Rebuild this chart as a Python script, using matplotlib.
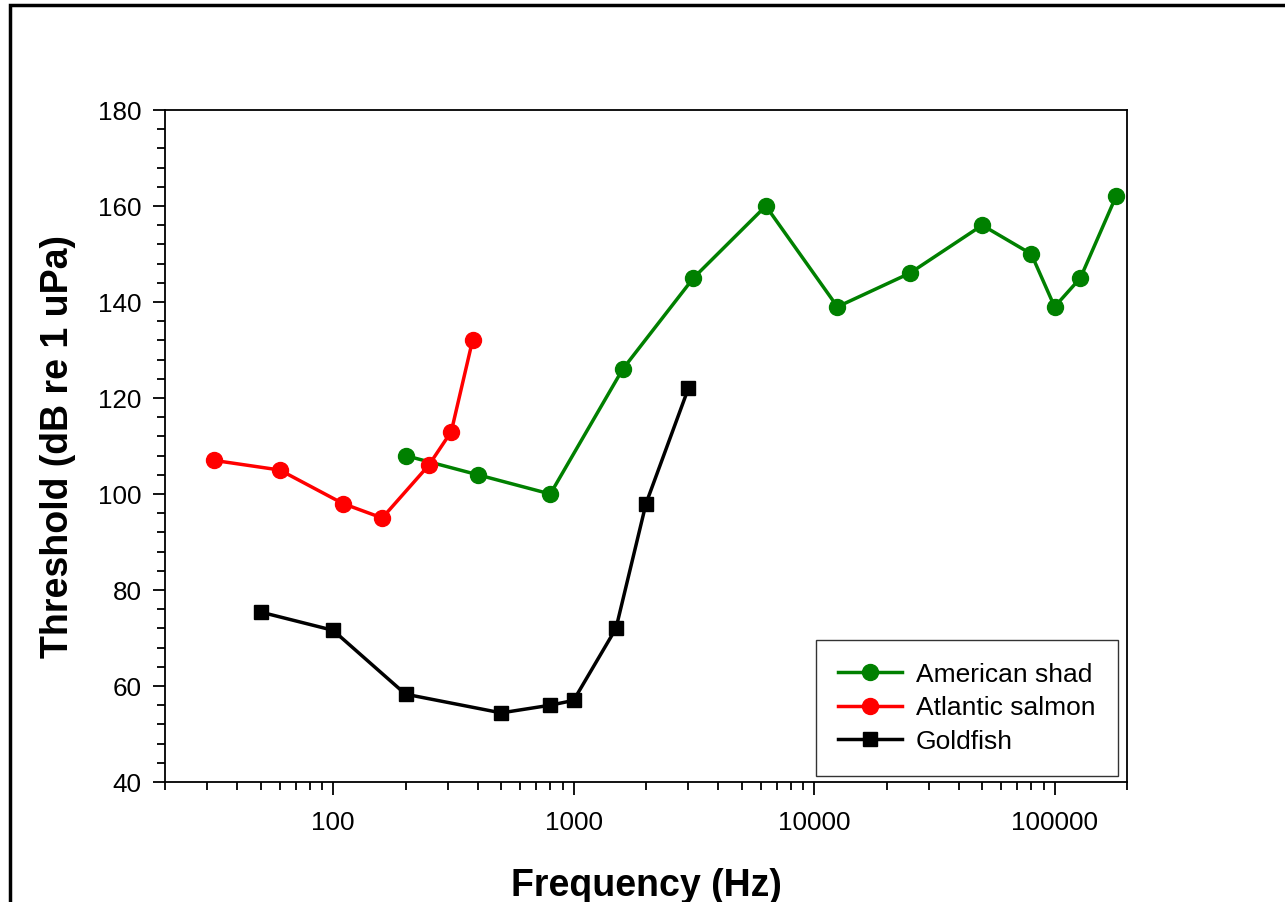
import matplotlib
matplotlib.use("Agg")
import matplotlib.pyplot as plt
from matplotlib.patches import Rectangle
from matplotlib.ticker import LogLocator, MultipleLocator, FixedLocator, NullFormatter

plt.rcParams['font.family'] = ['Liberation Sans', 'DejaVu Sans']

shad_freq = [200, 400, 800, 1600, 3150, 6300, 12500, 25000, 50000, 80000, 100000, 128000, 180000]
shad_thr = [108, 104, 100, 126, 145, 160, 139, 146, 156, 150, 139, 145, 162]

salmon_freq = [32, 60, 110, 160, 250, 310, 380]
salmon_thr = [107, 105, 98, 95, 106, 113, 132]

gold_freq = [50, 100, 200, 500, 800, 1000, 1500, 2000, 3000]
gold_thr = [75.4, 71.6, 58.3, 54.4, 56, 57, 72, 98, 122]

W, H = 1285, 902
fig = plt.figure(figsize=(W/100, H/100), dpi=100)
ax = fig.add_axes([165/W, 1-782/H, (1127-165)/W, (782-110)/H])

ax.plot(shad_freq, shad_thr, color='green', lw=2.5, marker='o', ms=11.5, label='American shad')
ax.plot(salmon_freq, salmon_thr, color='red', lw=2.5, marker='o', ms=11.5, label='Atlantic salmon')
ax.plot(gold_freq, gold_thr, color='black', lw=2.5, marker='s', ms=10, label='Goldfish')

ax.set_xscale('log')
ax.set_xlim(20, 200000)
ax.set_ylim(40, 180)
ax.xaxis.set_major_locator(FixedLocator([100, 1000, 10000, 100000]))
ax.xaxis.set_minor_locator(LogLocator(base=10, subs=range(2, 10), numticks=20))
ax.xaxis.set_minor_formatter(NullFormatter())
ax.set_xticklabels(['100', '1000', '10000', '100000'])
ax.yaxis.set_major_locator(MultipleLocator(20))
ax.yaxis.set_minor_locator(MultipleLocator(4))

ax.tick_params(which='major', direction='out', length=9, width=1.3, labelsize=18.7)
ax.tick_params(axis='x', which='major', pad=12)
ax.tick_params(axis='y', which='major', pad=8)
ax.tick_params(which='minor', direction='out', length=6, width=1.3)
ax.tick_params(top=False, right=False)
for s in ax.spines.values():
    s.set_linewidth(1.3)

ax.set_xlabel('Frequency (Hz)', fontsize=27, fontweight='bold', labelpad=24)
ax.set_ylabel('Threshold (dB re 1 uPa)', fontsize=27, fontweight='bold', labelpad=16)

leg = ax.legend(loc='lower right', fontsize=19, frameon=True, fancybox=False,
                edgecolor='black', borderpad=0.85, handlelength=2.4, labelspacing=0.36,
                handletextpad=0.55, borderaxespad=0,
                bbox_to_anchor=(1 - 9/962, 6/672))
leg.get_frame().set_linewidth(1.0)

fig.patches.append(Rectangle((10/W, -0.2), 1.2, 1.2 - 5/H, transform=fig.transFigure,
                             fill=False, edgecolor='black', lw=2.5))

fig.savefig('out.png', dpi=100)
